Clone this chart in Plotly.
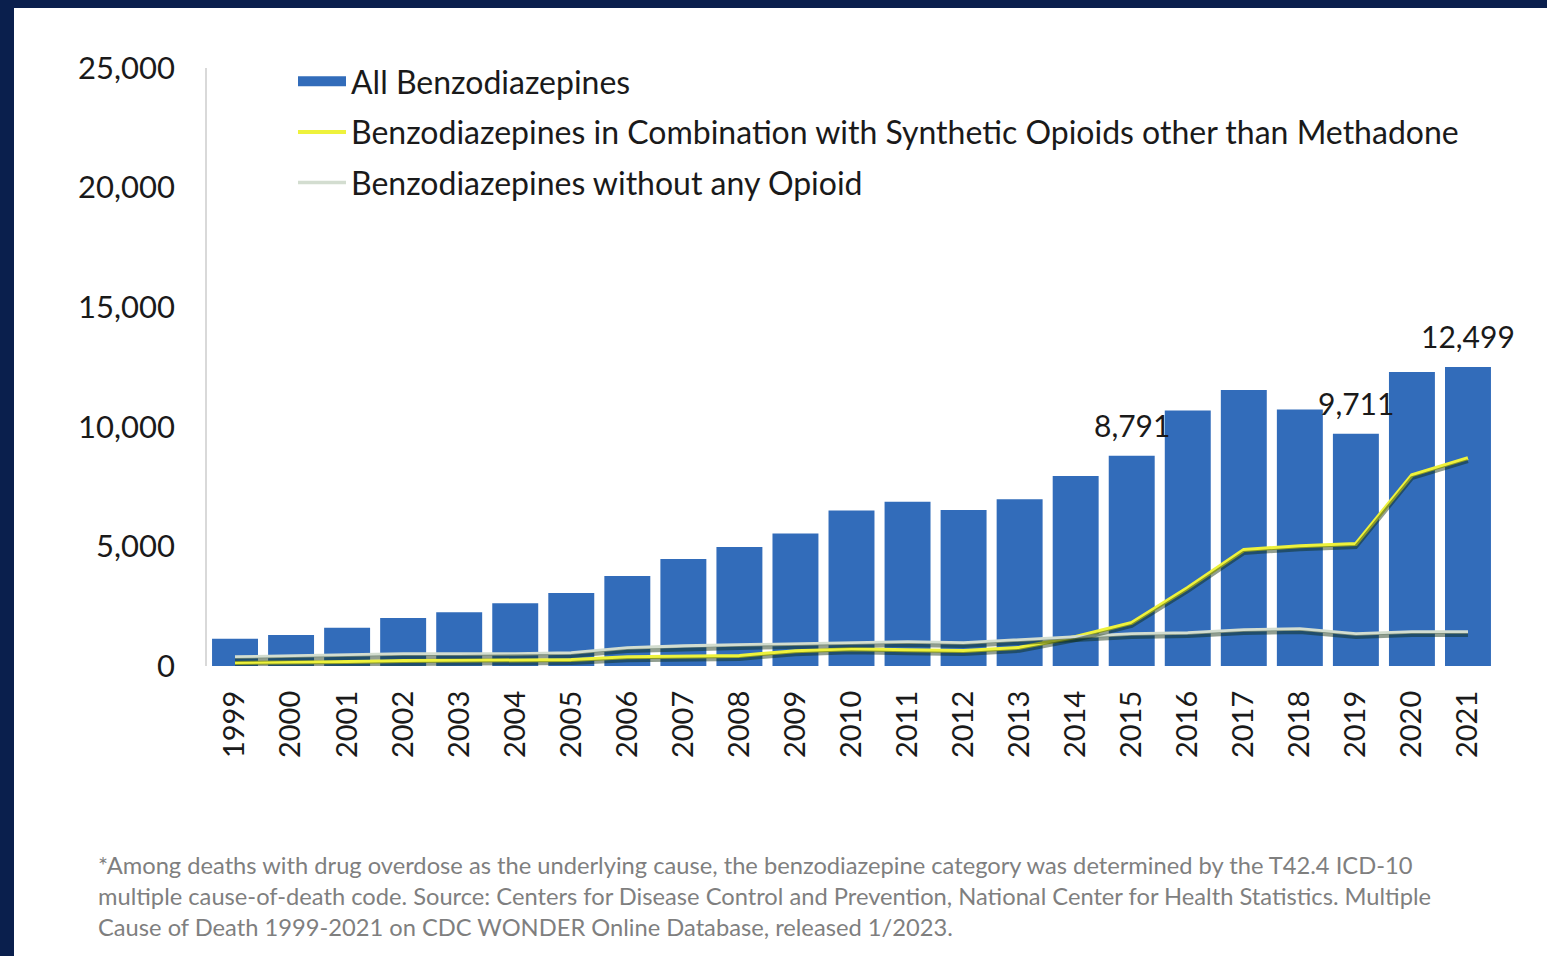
import plotly.graph_objects as go

# Benzodiazepine overdose deaths, United States, 1999-2021
years = [str(y) for y in range(1999, 2022)]

all_benzo = [1135, 1298, 1594, 2007, 2248, 2627, 3051, 3760, 4470, 4970,
             5540, 6500, 6870, 6520, 6970, 7945, 8791, 10684, 11537, 10724,
             9711, 12290, 12499]

benzo_synthetic = [130, 140, 170, 210, 210, 210, 250, 370, 380, 420,
                   620, 700, 660, 630, 760, 1210, 1800, 3260, 4850, 5010,
                   5100, 7980, 8690]

benzo_no_opioid = [375, 420, 460, 500, 500, 500, 540, 750, 835, 880,
                   920, 960, 1000, 960, 1090, 1210, 1340, 1380, 1500, 1550,
                   1340, 1420, 1420]

labelled_years = ["2015", "2019", "2021"]

y_ticks = [0, 5000, 10000, 15000, 20000, 25000]

footnote_lines = [
    "*Among deaths with drug overdose as the underlying cause, the benzodiazepine category was determined by the T42.4 ICD-10",
    "multiple cause-of-death code. Source: Centers for Disease Control and Prevention, National Center for Health Statistics. Multiple",
    "Cause of Death 1999-2021 on CDC WONDER Online Database, released 1/2023.",
]

W, H = 1547, 956
L, R, T, B = 207, 1496, 68, 666
FONT = "Lato, 'Open Sans', sans-serif"
NAVY = "#0a1f4d"
BAR_BLUE = "#326cba"


def xp(px):
    return (px - L) / (R - L)


def yp(py):
    return (B - py) / (B - T)


fig = go.Figure()

fig.add_trace(go.Bar(
    x=years, y=all_benzo, name="All Benzodiazepines",
    marker=dict(color=BAR_BLUE, line=dict(width=0)),
    showlegend=False,
))
# wide swatch for the bar series in the legend
fig.add_trace(go.Scatter(
    x=[None], y=[None], mode="lines", name="All Benzodiazepines",
    line=dict(color=BAR_BLUE, width=15), legendgroup="a",
))

# soft drop shadows under the lines (drawn on a slightly shifted overlay axis)
for vals in (benzo_no_opioid, benzo_synthetic):
    fig.add_trace(go.Scatter(
        x=years, y=vals, mode="lines", yaxis="y2",
        line=dict(color="rgba(10,40,10,0.45)", width=4),
        showlegend=False, hoverinfo="skip",
    ))

fig.add_trace(go.Scatter(
    x=years, y=benzo_synthetic, mode="lines",
    name="Benzodiazepines in Combination with Synthetic Opioids other than Methadone",
    line=dict(color="#eef23c", width=4),
    legendgroup="b",
))
fig.add_trace(go.Scatter(
    x=years, y=benzo_no_opioid, mode="lines",
    name="Benzodiazepines without any Opioid",
    line=dict(color="#d3ddd0", width=3.5),
    legendgroup="c",
))

for yr in labelled_years:
    i = years.index(yr)
    v = all_benzo[i]
    fig.add_annotation(
        x=i, y=v, text=f"{v:,}", showarrow=False,
        yanchor="middle", yshift=31,
        font=dict(family=FONT, size=30, color="#1a1a1a"),
    )

for i, line in enumerate(footnote_lines):
    fig.add_annotation(
        xref="paper", yref="paper", x=xp(96), y=yp(865 + 31 * i),
        xanchor="left", yanchor="middle", text=line, showarrow=False,
        font=dict(family=FONT, size=23.7, color="#7f7f7f"),
    )

# dark frame along the top and left edges
fig.add_shape(type="rect", xref="paper", yref="paper",
              x0=xp(0), x1=xp(14), y0=yp(H), y1=yp(0),
              fillcolor=NAVY, line=dict(width=0), layer="below")
fig.add_shape(type="rect", xref="paper", yref="paper",
              x0=xp(0), x1=xp(W), y0=yp(8), y1=yp(0),
              fillcolor=NAVY, line=dict(width=0), layer="below")

px_per_unit = (B - T) / 25000
shift = 3 / px_per_unit

fig.update_layout(
    width=W, height=H,
    margin=dict(l=L, r=W - R, t=T, b=H - B, pad=0),
    paper_bgcolor="white", plot_bgcolor="white",
    bargap=0.18,
    font=dict(family=FONT, size=30, color="#1a1a1a"),
    xaxis=dict(
        type="category", tickangle=-90, showgrid=False, showline=False,
        ticks="", ticklabelstandoff=18,
        tickfont=dict(family=FONT, size=29, color="#1a1a1a"),
        range=[-0.5, len(years) - 0.5],
    ),
    yaxis=dict(
        range=[0, 25000], tickvals=y_ticks, tickformat=",",
        showgrid=False, zeroline=False, showline=True, linecolor="#d9d9d9",
        linewidth=1.5, ticks="", ticklabelstandoff=24,
        tickfont=dict(family=FONT, size=31, color="#1a1a1a"),
    ),
    yaxis2=dict(
        overlaying="y", range=[shift, 25000 + shift], visible=False,
    ),
    legend=dict(
        x=xp(293), y=yp(54), xanchor="left", yanchor="top",
        bgcolor="rgba(0,0,0,0)", itemwidth=48, tracegroupgap=6,
        font=dict(family=FONT, size=32, color="#1a1a1a"),
    ),
    showlegend=True,
)

fig.write_html("out.html")
